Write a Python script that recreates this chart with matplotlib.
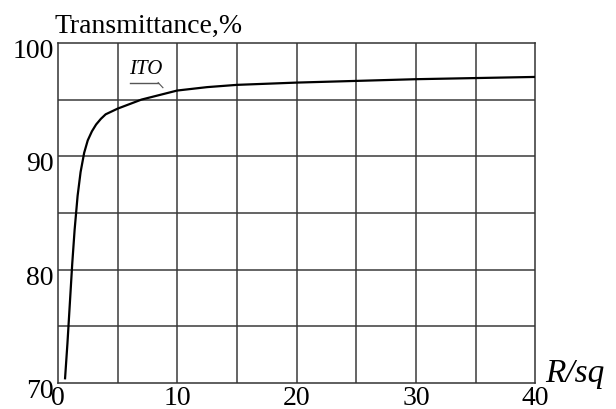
import numpy as np
import matplotlib.pyplot as plt
from matplotlib.transforms import ScaledTranslation

plt.rcParams['font.family'] = ['Liberation Serif', 'DejaVu Serif']

# values
r_sq = [0.6, 0.8, 1.0, 1.2, 1.4, 1.65, 1.9, 2.2, 2.5, 2.85, 3.2, 3.6, 4.0, 5.0, 6.0, 7.0, 8.5, 10.0, 12.5, 15.0, 20.0, 25.0, 30.0, 35.0, 40.0]
transmittance = [70.4, 73.5, 77.0, 80.5, 83.5, 86.5, 88.6, 90.3, 91.4, 92.2, 92.8, 93.3, 93.7, 94.2, 94.6, 95.0, 95.4, 95.8, 96.1, 96.3, 96.5, 96.65, 96.8, 96.9, 97.0]

x_ticks = [0, 10, 20, 30, 40]
y_ticks = [70, 80, 90, 100]

fig = plt.figure(figsize=(6.16, 4.09), dpi=100)
ax = fig.add_axes([0.094, 0.064, 0.775, 0.831])

# grid every 5 units
for gx in np.arange(5, 40, 5):
    ax.axvline(gx, color='#3a3a3a', lw=1.1, zorder=1)
for gy in np.arange(75, 100, 5):
    ax.axhline(gy, color='#3a3a3a', lw=1.1, zorder=1)

ax.plot(r_sq, transmittance, color='black', lw=1.6, zorder=3)

ax.set_xlim(0, 40)
ax.set_ylim(70, 100)
ax.set_xticks(x_ticks)
ax.set_yticks(y_ticks)
ax.tick_params(length=0, labelsize=20)
ax.tick_params(axis='x', pad=2)
ax.tick_params(axis='y', pad=3)
shift = ScaledTranslation(0, -4 / 72, fig.dpi_scale_trans)
for lbl in ax.get_yticklabels():
    lbl.set_transform(lbl.get_transform() + shift)
for s in ax.spines.values():
    s.set_color('#333333')
    s.set_linewidth(1.1)

ax.text(-0.25, 100.9, 'Transmittance,%', fontsize=20, ha='left', va='baseline')
ax.text(40.8, 70.1, 'R/sq', fontsize=24, style='italic', ha='left', va='baseline')

# ITO label with underline and leader
ax.text(6.0, 97.3, 'ITO', fontsize=15, style='italic', ha='left', va='baseline')
ax.plot([6.0, 8.4], [96.5, 96.5], color='#555555', lw=1.0)
ax.plot([8.4, 8.8], [96.5, 96.05], color='#555555', lw=0.8)

fig.savefig('out.png', dpi=100)
